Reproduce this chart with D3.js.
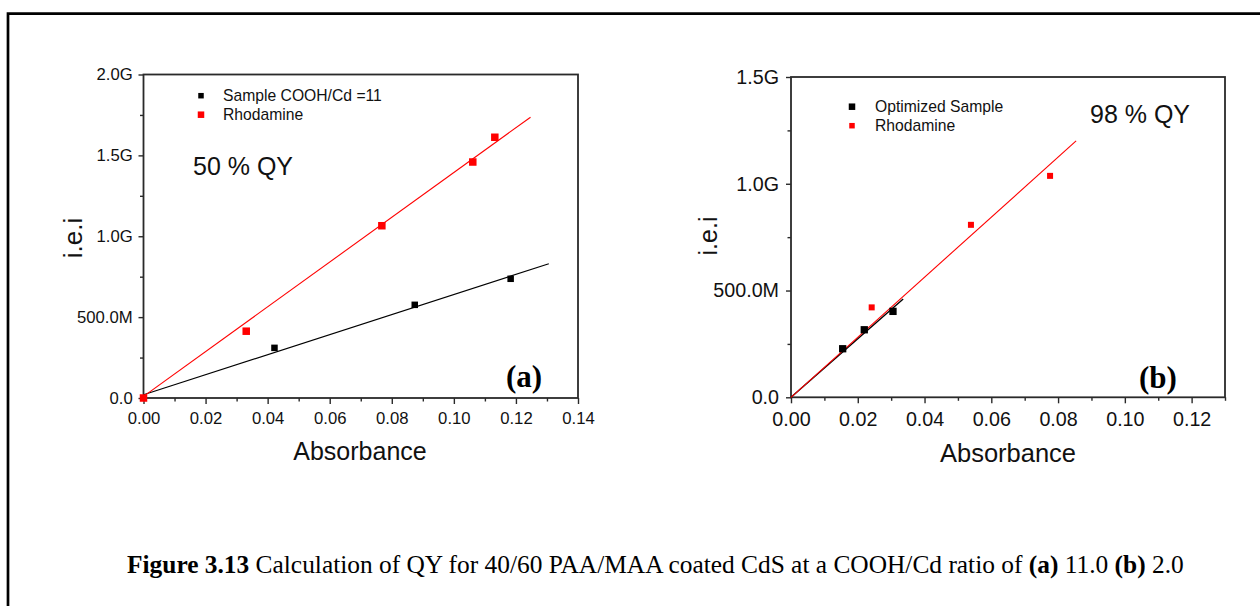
<!DOCTYPE html>
<html>
<head>
<meta charset="utf-8">
<script src="https://cdn.jsdelivr.net/npm/d3@7"></script>
<style>
  body { margin: 0; background: #fff; }
  svg { display: block; }
</style>
</head>
<body>
<svg id="fig" width="1260" height="606"></svg>
<script>
// ---------- panel (a): COOH/Cd = 11 ----------
const aXTicks = [0, 0.02, 0.04, 0.06, 0.08, 0.10, 0.12, 0.14];
const aXTickLabels = ["0.00", "0.02", "0.04", "0.06", "0.08", "0.10", "0.12", "0.14"];
const aXMinor = [0.01, 0.03, 0.05, 0.07, 0.09, 0.11, 0.13];
const aYTicks = [0, 0.5e9, 1.0e9, 1.5e9, 2.0e9];
const aYTickLabels = ["0.0", "500.0M", "1.0G", "1.5G", "2.0G"];
const aYMinor = [0.25e9, 0.75e9, 1.25e9, 1.75e9];

const aSampleX = [0.0422, 0.0874, 0.1183];
const aSampleY = [0.310e9, 0.576e9, 0.737e9];
const aRhodX = [0, 0.0331, 0.0768, 0.1061, 0.1132];
const aRhodY = [0, 0.413e9, 1.065e9, 1.459e9, 1.612e9];
// linear fits (end points)
const aSampleFitX = [0, 0.1306];
const aSampleFitY = [0.020e9, 0.830e9];
const aRhodFitX = [0, 0.1247];
const aRhodFitY = [0.010e9, 1.736e9];
const aLegend = ["Sample COOH/Cd =11", "Rhodamine"];
const aQY = "50 % QY";

// ---------- panel (b): optimized sample ----------
const bXTicks = [0, 0.02, 0.04, 0.06, 0.08, 0.10, 0.12];
const bXTickLabels = ["0.00", "0.02", "0.04", "0.06", "0.08", "0.10", "0.12"];
const bXMinor = [0.01, 0.03, 0.05, 0.07, 0.09, 0.11, 0.13];
const bYTicks = [0, 0.5e9, 1.0e9, 1.5e9];
const bYTickLabels = ["0.0", "500.0M", "1.0G", "1.5G"];
const bYMinor = [0.25e9, 0.75e9, 1.25e9];

const bSampleX = [0.01548, 0.02195, 0.03055];
const bSampleY = [0.2274e9, 0.3163e9, 0.4024e9];
const bRhodX = [0.02417, 0.0539, 0.0776];
const bRhodY = [0.4211e9, 0.8077e9, 1.037e9];
const bSampleFitX = [0, 0.0336];
const bSampleFitY = [0, 0.460e9];
const bRhodFitX = [0, 0.0854];
const bRhodFitY = [0, 1.2007e9];
const bLegend = ["Optimized Sample", "Rhodamine"];
const bQY = "98 % QY";

const captionParts = [
  { t: "Figure 3.13", bold: true },
  { t: " Calculation of QY for 40/60 PAA/MAA coated CdS at a COOH/Cd ratio of ", bold: false },
  { t: "(a)", bold: true },
  { t: " 11.0 ", bold: false },
  { t: "(b)", bold: true },
  { t: " 2.0", bold: false }
];

const SANS = "'Liberation Sans', Arial, Helvetica, sans-serif";
const SERIF = "'Liberation Serif', 'Times New Roman', serif";
const INK = "#111";
const AXIS = "#2a2a2a";

const svg = d3.select("#fig");
svg.append("rect").attr("width", 1260).attr("height", 606).attr("fill", "#fff");

// page frame (top and left edges visible)
svg.append("path")
  .attr("d", "M8,620 L8,13.7 L1275,13.7")
  .attr("fill", "none").attr("stroke", "#000").attr("stroke-width", 2.7);

const zip = (xs, ys) => xs.map((x, i) => [x, ys[i]]);

const panels = [
  {
    box: { left: 143.5, right: 578, top: 74.5, bottom: 398 },
    xDomain: [0, 0.14], yDomain: [0, 2.0e9],
    xTicks: aXTicks, xLabels: aXTickLabels, xMinor: aXMinor,
    yTicks: aYTicks, yLabels: aYTickLabels, yMinor: aYMinor,
    tickFont: 16.7, xPad: 7.7, yPad: 5.8,
    fits: [
      { pts: zip(aSampleFitX, aSampleFitY), color: "#000", w: 1.1 },
      { pts: zip(aRhodFitX, aRhodFitY), color: "#ff0000", w: 1.1 }
    ],
    series: [
      { pts: zip(aSampleX, aSampleY), color: "#000", size: 6.5 },
      { pts: zip(aRhodX, aRhodY), color: "#ff0000", size: 7.5 }
    ],
    legend: { mx: 201, my: [95.7, 114.7], tx: 223, names: aLegend, sizes: [5.5, 6.5], colors: ["#000", "#ff0000"], font: 15.7 },
    qy: { text: aQY, x: 193, y: 175, font: 25 },
    tag: { text: "(a)", x: 506, y: 387, font: 31 },
    xTitle: { x: 360, y: 460, font: 25 },
    yTitle: { x: 81.5, y: 238, font: 26 }
  },
  {
    box: { left: 791, right: 1225, top: 77, bottom: 397.3 },
    xDomain: [0, 0.13], yDomain: [0, 1.5e9],
    xTicks: bXTicks, xLabels: bXTickLabels, xMinor: bXMinor,
    yTicks: bYTicks, yLabels: bYTickLabels, yMinor: bYMinor,
    tickFont: 19.7, xPad: 8.4, yPad: 7,
    fits: [
      { pts: zip(bSampleFitX, bSampleFitY), color: "#000", w: 1.4 },
      { pts: zip(bRhodFitX, bRhodFitY), color: "#ff0000", w: 1.1 }
    ],
    series: [
      { pts: zip(bSampleX, bSampleY), color: "#000", size: 7.3 },
      { pts: zip(bRhodX, bRhodY), color: "#ff0000", size: 6 }
    ],
    legend: { mx: 852, my: [106.7, 125.7], tx: 875, names: bLegend, sizes: [6.5, 5.5], colors: ["#000", "#ff0000"], font: 15.7 },
    qy: { text: bQY, x: 1090, y: 123.3, font: 25 },
    tag: { text: "(b)", x: 1139, y: 387.5, font: 31 },
    xTitle: { x: 1008, y: 462, font: 25.5 },
    yTitle: { x: 717, y: 236, font: 25 }
  }
];

panels.forEach(p => {
  const b = p.box;
  const x = d3.scaleLinear().domain(p.xDomain).range([b.left, b.right]);
  const y = d3.scaleLinear().domain(p.yDomain).range([b.bottom, b.top]);
  const g = svg.append("g");

  // minor ticks
  g.append("g").attr("transform", `translate(0,${b.bottom})`)
    .call(d3.axisBottom(x).tickValues(p.xMinor).tickSize(3.5).tickFormat(""));
  g.append("g").attr("transform", `translate(${b.left},0)`)
    .call(d3.axisLeft(y).tickValues(p.yMinor).tickSize(3.5).tickFormat(""));

  // major ticks with labels
  g.append("g").attr("transform", `translate(0,${b.bottom})`)
    .call(d3.axisBottom(x).tickValues(p.xTicks).tickSize(6).tickPadding(p.xPad)
      .tickFormat((d, i) => p.xLabels[i]));
  g.append("g").attr("transform", `translate(${b.left},0)`)
    .call(d3.axisLeft(y).tickValues(p.yTicks).tickSize(5).tickPadding(p.yPad)
      .tickFormat((d, i) => p.yLabels[i]));

  g.selectAll(".domain").remove();
  g.selectAll(".tick line").attr("stroke", AXIS).attr("stroke-width", 1.4);
  g.selectAll(".tick text")
    .attr("fill", INK).style("font-family", SANS).style("font-size", p.tickFont + "px");

  // plot frame
  g.append("rect")
    .attr("x", b.left).attr("y", b.top)
    .attr("width", b.right - b.left).attr("height", b.bottom - b.top)
    .attr("fill", "none").attr("stroke", AXIS).attr("stroke-width", 1.8);

  // fit lines
  const line = d3.line().x(d => x(d[0])).y(d => y(d[1]));
  p.fits.forEach(f => {
    g.append("path").datum(f.pts).attr("d", line)
      .attr("fill", "none").attr("stroke", f.color).attr("stroke-width", f.w);
  });

  // data markers
  p.series.forEach(s => {
    g.selectAll(null).data(s.pts).enter().append("rect")
      .attr("x", d => x(d[0]) - s.size / 2)
      .attr("y", d => y(d[1]) - s.size / 2)
      .attr("width", s.size).attr("height", s.size)
      .attr("fill", s.color);
  });

  // legend
  const L = p.legend;
  L.names.forEach((name, i) => {
    g.append("rect")
      .attr("x", L.mx - L.sizes[i] / 2).attr("y", L.my[i] - L.sizes[i] / 2)
      .attr("width", L.sizes[i]).attr("height", L.sizes[i]).attr("fill", L.colors[i]);
    g.append("text").text(name)
      .attr("x", L.tx).attr("y", L.my[i]).attr("dy", "0.35em")
      .attr("fill", INK).style("font-family", SANS).style("font-size", L.font + "px");
  });

  // QY annotation
  g.append("text").text(p.qy.text).attr("x", p.qy.x).attr("y", p.qy.y)
    .attr("fill", INK).style("font-family", SANS).style("font-size", p.qy.font + "px");

  // panel tag
  g.append("text").text(p.tag.text).attr("x", p.tag.x).attr("y", p.tag.y)
    .attr("fill", "#000").style("font-family", SERIF).style("font-weight", "bold")
    .style("font-size", p.tag.font + "px");

  // axis titles
  g.append("text").text("Absorbance")
    .attr("x", p.xTitle.x).attr("y", p.xTitle.y).attr("text-anchor", "middle")
    .attr("fill", INK).style("font-family", SANS).style("font-size", p.xTitle.font + "px");
  g.append("text").text("i.e.i")
    .attr("transform", `translate(${p.yTitle.x},${p.yTitle.y}) rotate(-90)`)
    .attr("text-anchor", "middle")
    .attr("fill", INK).style("font-family", SANS).style("font-size", p.yTitle.font + "px");
});

// figure caption
const cap = svg.append("text").attr("x", 127).attr("y", 573)
  .attr("fill", "#000").style("font-family", SERIF).style("font-size", "25.4px");
captionParts.forEach(c => {
  cap.append("tspan").text(c.t).style("font-weight", c.bold ? "bold" : "normal");
});
</script>
</body>
</html>
